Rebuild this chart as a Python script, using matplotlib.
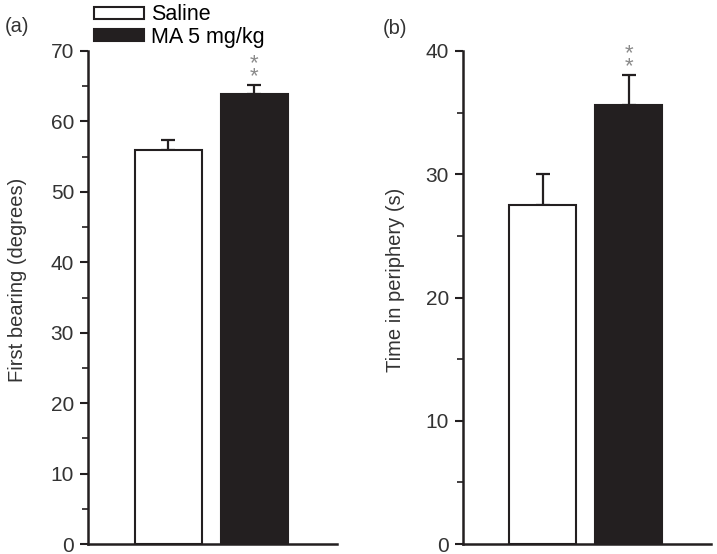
import matplotlib.pyplot as plt
from matplotlib.patches import Patch

plt.rcParams['font.family'] = ['Liberation Sans', 'DejaVu Sans']

groups = ["Saline", "MA 5 mg/kg"]
bearing = [55.9, 63.9]
bearing_err = [1.5, 1.3]
periphery = [27.5, 35.6]
periphery_err = [2.5, 2.45]

ink = "#231f20"
txt = "#333333"
face = ["white", ink]

fig = plt.figure(figsize=(7.17, 5.54), dpi=100)
ax1 = fig.add_axes([88 / 717, 10 / 554, 249 / 717, 493 / 554])
ax2 = fig.add_axes([463 / 717, 10 / 554, 248 / 717, 493 / 554])


def draw(ax, vals, errs, ymax, ticks, label):
    x = [0, 1]
    ax.bar(x, vals, width=0.78, color=face, edgecolor=[ink, ink],
           linewidth=1.5, zorder=2)
    ax.errorbar(x, vals, yerr=[[0, 0], errs], fmt="none", ecolor=ink,
                elinewidth=1.6, capsize=5, capthick=1.6, zorder=1)
    # significance stars above the MA bar
    ax.annotate("*\n*", xy=(1, vals[1] + errs[1]), xytext=(0, -1.5),
                textcoords="offset points", ha="center", va="bottom",
                color="#8a8a8a", fontsize=16, linespacing=0.5)
    ax.set_xlim(-0.93, 1.96)
    ax.set_ylim(0, ymax)
    ax.set_yticks(ticks)
    ax.set_yticks([t + ticks[1] / 2 for t in ticks[:-1]], minor=True)
    ax.set_xticks([])
    for s in ("top", "right"):
        ax.spines[s].set_visible(False)
    for s in ("left", "bottom"):
        ax.spines[s].set_linewidth(1.8)
        ax.spines[s].set_color(ink)
    ax.tick_params(axis="y", which="major", length=6, width=1.5,
                   labelsize=15, color=ink, labelcolor=txt, pad=4)
    ax.tick_params(axis="y", which="minor", length=4, width=1.2, color=ink)
    ax.set_ylabel(label, fontsize=14.5, color=txt)


draw(ax1, bearing, bearing_err, 70, list(range(0, 71, 10)),
     "First bearing (degrees)")
draw(ax2, periphery, periphery_err, 40, list(range(0, 41, 10)),
     "Time in periphery (s)")
ax1.yaxis.set_label_coords(-61 / 249, 0.535)
ax2.yaxis.set_label_coords(-58 / 248, 0.535)

handles = [Patch(facecolor=face[i], edgecolor=ink, linewidth=1.5,
                 label=groups[i]) for i in range(2)]
fig.legend(handles=handles, loc="upper left", bbox_to_anchor=(94 / 717, 0.992),
           frameon=False, fontsize=15.5, handlelength=2.3, handleheight=0.5,
           handletextpad=0.35, labelspacing=0.05, borderaxespad=0,
           borderpad=0)

fig.text(5 / 717, 1 - 27 / 554, "(a)", fontsize=14.5, color=txt, va="center")
fig.text(383 / 717, 1 - 28 / 554, "(b)", fontsize=14.5, color=txt, va="center")

fig.savefig("out.png", dpi=100)
